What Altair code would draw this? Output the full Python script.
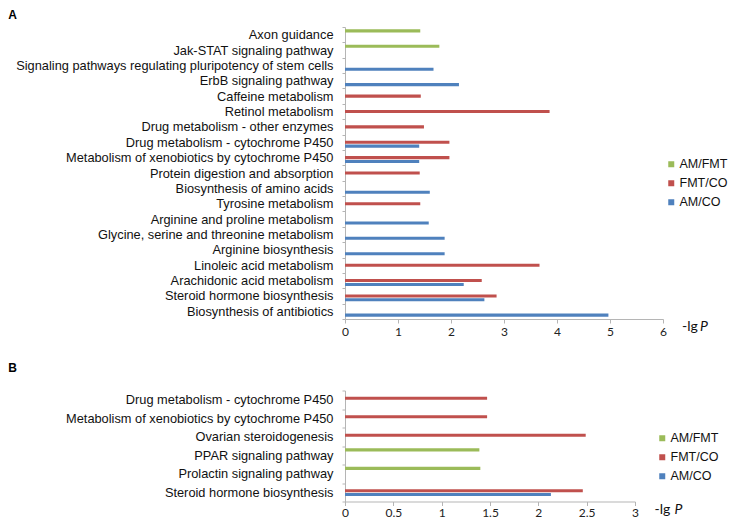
import altair as alt
import pandas as pd

series_names = ["AM/FMT", "FMT/CO", "AM/CO"]
series_colors = ["#9BBB59", "#C0504D", "#4F81BD"]

# Panel A
cats_a = [
    "Axon guidance",
    "Jak-STAT signaling pathway",
    "Signaling pathways regulating pluripotency of stem cells",
    "ErbB signaling pathway",
    "Caffeine metabolism",
    "Retinol metabolism",
    "Drug metabolism - other enzymes",
    "Drug metabolism - cytochrome P450",
    "Metabolism of xenobiotics by cytochrome P450",
    "Protein digestion and absorption",
    "Biosynthesis of amino acids",
    "Tyrosine metabolism",
    "Arginine and proline metabolism",
    "Glycine, serine and threonine metabolism",
    "Arginine biosynthesis",
    "Linoleic acid metabolism",
    "Arachidonic acid metabolism",
    "Steroid hormone biosynthesis",
    "Biosynthesis of antibiotics",
]
am_fmt_a = [1.42, 1.78, None, None, None, None, None, None, None, None,
            None, None, None, None, None, None, None, None, None]
fmt_co_a = [None, None, None, None, 1.43, 3.86, 1.49, 1.97, 1.97, 1.41,
            None, 1.42, None, None, None, 3.67, 2.58, 2.86, None]
am_co_a = [None, None, 1.67, 2.15, None, None, None, 1.40, 1.40, None,
           1.60, None, 1.58, 1.88, 1.88, None, 2.24, 2.63, 4.97]
ticks_a = [0, 1, 2, 3, 4, 5, 6]

# Panel B
cats_b = [
    "Drug metabolism - cytochrome P450",
    "Metabolism of xenobiotics by cytochrome P450",
    "Ovarian steroidogenesis",
    "PPAR signaling pathway",
    "Prolactin signaling pathway",
    "Steroid hormone biosynthesis",
]
am_fmt_b = [None, None, None, 1.39, 1.40, None]
fmt_co_b = [1.47, 1.47, 2.49, None, None, 2.46]
am_co_b = [None, None, None, None, None, 2.13]
ticks_b = [0, 0.5, 1, 1.5, 2, 2.5, 3]


def long_df(cats, s1, s2, s3):
    rows = []
    for c, a, b, d in zip(cats, s1, s2, s3):
        for name, v in zip(series_names, (a, b, d)):
            if v is not None:
                rows.append({"pathway": c, "series": name, "value": v})
    return pd.DataFrame(rows)


AXIS_GRAY = "#b5b5b5"


def panel(df, cats, width, height, xmax, xticks, off_outer, off_align,
          leg_x, leg_y, letter, letter_x, letter_y, xlab_pad, lg_dx, lg_dy, p_dx):
    bars = alt.Chart(df).mark_bar().encode(
        x=alt.X(
            "value:Q",
            scale=alt.Scale(domain=[0, xmax], nice=False, zero=True),
            axis=alt.Axis(
                values=xticks, format="~g", title=None, grid=False,
                domainColor=AXIS_GRAY, tickColor=AXIS_GRAY, tickSize=4,
                labelFont="Lato", labelFontSize=12, labelColor="#222222",
                labelPadding=xlab_pad, labelFlush=False,
            ),
        ),
        y=alt.Y(
            "pathway:N", sort=cats,
            scale=alt.Scale(paddingInner=0, paddingOuter=0),
            axis=alt.Axis(
                title=None, grid=False, tickBand="extent", tickSize=3,
                domainColor=AXIS_GRAY, tickColor=AXIS_GRAY,
                labelFont="Liberation Sans", labelFontSize=12.8,
                labelColor="#111111", labelPadding=9, labelLimit=500,
            ),
        ),
        yOffset=alt.YOffset(
            "series:N", sort=series_names,
            scale=alt.Scale(domain=series_names, paddingInner=0.2,
                            paddingOuter=off_outer, align=off_align),
        ),
        color=alt.Color(
            "series:N",
            scale=alt.Scale(domain=series_names, range=series_colors),
            legend=alt.Legend(
                orient="none", legendX=leg_x, legendY=leg_y, title=None,
                symbolType="square", symbolSize=36, symbolStrokeWidth=0,
                labelFont="Liberation Sans", labelFontSize=12.5,
                labelColor="#111111", labelOffset=2, rowPadding=6, padding=0,
            ),
        ),
    )
    letter_mark = alt.Chart(pd.DataFrame({"t": [letter]})).mark_text(
        align="left", baseline="top", fontWeight="bold", fontSize=12,
        font="Liberation Sans", color="#000000",
    ).encode(text="t:N", x=alt.value(letter_x), y=alt.value(letter_y))
    lg_mark = alt.Chart(pd.DataFrame({"t": ["-lg"]})).mark_text(
        align="left", baseline="middle", fontSize=14, font="Lato", color="#111111",
    ).encode(text="t:N", x=alt.value(width + lg_dx), y=alt.value(height + lg_dy))
    p_mark = alt.Chart(pd.DataFrame({"t": ["P"]})).mark_text(
        align="left", baseline="middle", fontSize=14, font="Lato",
        fontStyle="italic", color="#111111",
    ).encode(text="t:N", x=alt.value(width + lg_dx + p_dx), y=alt.value(height + lg_dy))
    return alt.layer(bars, letter_mark, lg_mark, p_mark).properties(
        width=width, height=height
    )


df_a = long_df(cats_a, am_fmt_a, fmt_co_a, am_co_a)
df_b = long_df(cats_b, am_fmt_b, fmt_co_b, am_co_b)

chart_a = panel(df_a, cats_a, 318, 292, 6, ticks_a, 0.6, 0.5,
                320, 131, "A", -336.7, -17.2, 3, 19, 8, 18)
chart_b = panel(df_b, cats_b, 290, 111, 3, ticks_b, 0.873, 0.63,
                311, 41.5, "B", -336.7, -27.5, 2, 19.5, 8, 20)

chart = alt.vconcat(chart_a, chart_b, spacing=24.5).resolve_scale(
    color="independent"
).resolve_legend(color="independent").properties(
    padding={"left": 0, "top": 0, "right": 0, "bottom": 0},
    autosize=alt.AutoSizeParams(type="pad"),
).configure(
    font="Liberation Sans", background="white", padding=0
).configure_view(stroke=None, strokeWidth=0)

chart.save("out.html", embed_options={"renderer": "svg", "actions": False})
